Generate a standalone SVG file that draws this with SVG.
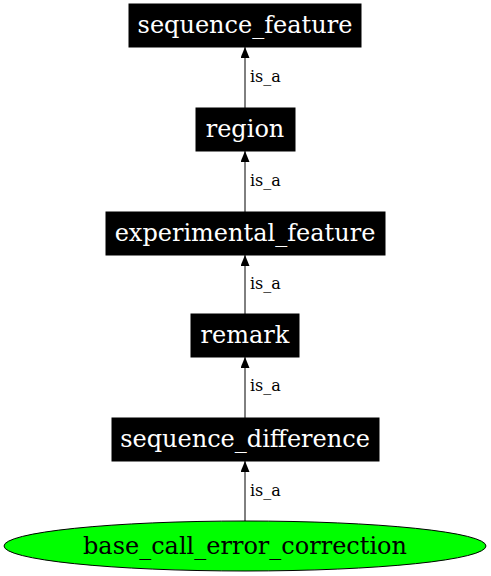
<svg xmlns="http://www.w3.org/2000/svg" width="491" height="576" viewBox="0 0 491 576">
<defs>
<style>
.box{fill:#000;stroke:#000;}
.nt{font-family:"DejaVu Serif",serif;font-size:24px;fill:#fff;text-anchor:middle;}
.et{font-family:"DejaVu Serif",serif;font-size:16px;fill:#000;}
.edge{stroke:#000;stroke-width:1;fill:none;}
</style>
<marker id="ah" markerWidth="11" markerHeight="9" refX="11" refY="4.5" orient="auto" markerUnits="userSpaceOnUse">
<path d="M0,0 L11,4.5 L0,9 Z" fill="#000"/>
</marker>
</defs>
<rect width="491" height="576" fill="#fff"/>
<g id="edges">
<path class="edge" d="M245,108 V47" marker-end="url(#ah)"/>
<text class="et" x="250" y="82">is_a</text>
<path class="edge" d="M245,212 V151" marker-end="url(#ah)"/>
<text class="et" x="250" y="186">is_a</text>
<path class="edge" d="M245,314 V255" marker-end="url(#ah)"/>
<text class="et" x="250" y="289">is_a</text>
<path class="edge" d="M245,418 V357" marker-end="url(#ah)"/>
<text class="et" x="250" y="391">is_a</text>
<path class="edge" d="M245,521 V461" marker-end="url(#ah)"/>
<text class="et" x="250" y="496">is_a</text>
</g>
<g id="sequence_feature"><rect class="box" x="129" y="4" width="232" height="43"/><text class="nt" x="245" y="33">sequence_feature</text></g>
<g id="region"><rect class="box" x="196" y="108" width="99" height="43"/><text class="nt" x="245" y="137">region</text></g>
<g id="experimental_feature"><rect class="box" x="106" y="212" width="279" height="43"/><text class="nt" x="245" y="241">experimental_feature</text></g>
<g id="remark"><rect class="box" x="191" y="314" width="108" height="43"/><text class="nt" x="245" y="343">remark</text></g>
<g id="sequence_difference"><rect class="box" x="112" y="418" width="267" height="43"/><text class="nt" x="245" y="447">sequence_difference</text></g>
<g id="base_call_error_correction"><ellipse cx="245" cy="546" rx="241" ry="25" fill="#00ff00" stroke="#000"/><text class="nt" x="245" y="554" style="fill:#000">base_call_error_correction</text></g>
</svg>
